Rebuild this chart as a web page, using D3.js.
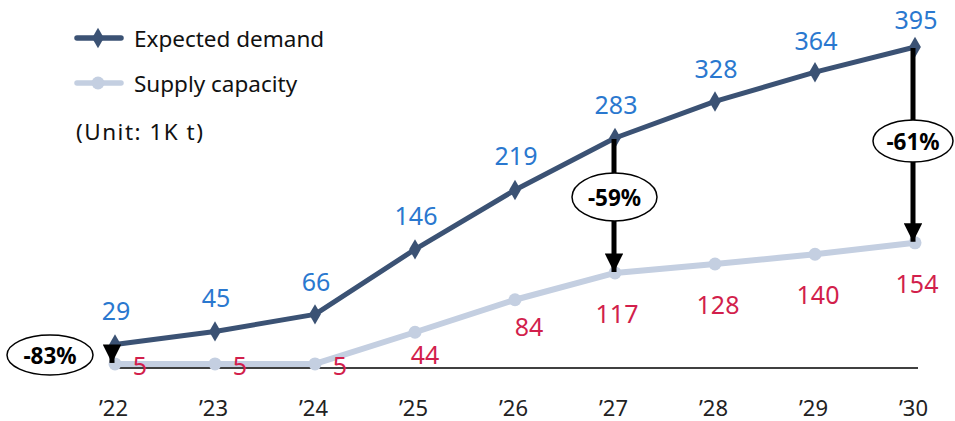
<!DOCTYPE html>
<html>
<head>
<meta charset="utf-8">
<script src="https://cdn.jsdelivr.net/npm/d3@7"></script>
<style>
  html, body { margin: 0; padding: 0; background: #fff; }
  svg { display: block; font-family: "Noto Sans", "Open Sans", sans-serif; }
</style>
</head>
<body>
<svg id="chart" width="955" height="421"></svg>
<script>
// Years on the x axis
const years = ["’22", "’23", "’24", "’25", "’26", "’27", "’28", "’29", "’30"];
// Expected demand (1K t)
const demand = [29, 45, 66, 146, 219, 283, 328, 364, 395];
// Supply capacity (1K t)
const supply = [5, 5, 5, 44, 84, 117, 128, 140, 154];
// Years where the demand/supply gap is called out
const gapYears = ["’22", "’27", "’30"];

const FONT = "'Noto Sans', 'Open Sans', sans-serif";
const demandColor = "#3b5274";
const supplyColor = "#c4cfe1";
const demandLabelColor = "#2a78cf";
const supplyLabelColor = "#d21f4c";

const svg = d3.select("#chart");

const x = d3.scalePoint().domain(years).range([115, 915]);
const y = d3.scaleLinear().domain([0, 395]).range([368, 47]);

// Baseline
svg.append("line")
  .attr("x1", x(years[0]) - 2).attr("x2", 918)
  .attr("y1", y(0)).attr("y2", y(0))
  .attr("stroke", "#000").attr("stroke-width", 1.3);

// x-axis tick labels
const xAxis = d3.axisBottom(x).tickSize(0).tickPadding(0);
const gx = svg.append("g").attr("transform", `translate(0, ${y(0)})`).call(xAxis);
gx.select(".domain").remove();
gx.selectAll("text")
  .attr("dy", null).attr("y", 39).attr("dx", -2).attr("dominant-baseline", "central")
  .attr("font-size", 22).attr("fill", "#222")
  .style("font-family", FONT);

const line = d3.line().x((d, i) => x(years[i])).y(d => y(d));

// Supply line
svg.append("path").datum(supply)
  .attr("d", line).attr("fill", "none")
  .attr("stroke", supplyColor).attr("stroke-width", 6).attr("stroke-linejoin", "round");
svg.selectAll("circle.sup").data(supply).join("circle")
  .attr("class", "sup")
  .attr("cx", (d, i) => x(years[i])).attr("cy", d => y(d)).attr("r", 6.5)
  .attr("fill", supplyColor);

// Demand line
svg.append("path").datum(demand)
  .attr("d", line).attr("fill", "none")
  .attr("stroke", demandColor).attr("stroke-width", 5).attr("stroke-linejoin", "round");
svg.selectAll("path.dem").data(demand).join("path")
  .attr("class", "dem")
  .attr("transform", (d, i) => `translate(${x(years[i])},${y(d)})`)
  .attr("d", d3.symbol(d3.symbolDiamond, 120))
  .attr("fill", demandColor);

// Gap arrows with percentage callouts
const defs = svg.append("defs");
defs.append("marker")
  .attr("id", "head").attr("viewBox", "0 0 10 10")
  .attr("refX", 10).attr("refY", 5)
  .attr("markerWidth", 3.7).attr("markerHeight", 3.7)
  .attr("markerUnits", "strokeWidth").attr("orient", "auto")
  .append("path").attr("d", "M0,0 L10,5 L0,10 Z").attr("fill", "#000");

const bubbleSpecs = {
  "’22": { cx: 50, cy: 355, rx: 43, ry: 20, ax: 112 },
  "’27": { cx: 614.5, cy: 197, rx: 42.5, ry: 24, ax: 614 },
  "’30": { cx: 913, cy: 141, rx: 40, ry: 21, ax: 913 }
};

gapYears.forEach(yr => {
  const i = years.indexOf(yr);
  const s = bubbleSpecs[yr];
  const pct = Math.round((supply[i] - demand[i]) / demand[i] * 100);
  svg.append("line")
    .attr("x1", s.ax).attr("x2", s.ax)
    .attr("y1", y(demand[i]) + 1).attr("y2", y(supply[i]) - 1)
    .attr("stroke", "#000").attr("stroke-width", 5)
    .attr("marker-end", "url(#head)");
  svg.append("ellipse")
    .attr("cx", s.cx).attr("cy", s.cy).attr("rx", s.rx).attr("ry", s.ry)
    .attr("fill", "#fff").attr("stroke", "#000").attr("stroke-width", 1.5);
  svg.append("text")
    .attr("x", s.cx).attr("y", s.cy).attr("text-anchor", "middle")
    .attr("dominant-baseline", "central")
    .attr("font-size", 22.5).attr("font-weight", "bold").attr("fill", "#000")
    .text(`${pct}%`);
});

// Value labels above the demand points
const demandNudge = [-34, -34, -33, -34, -35, -34, -33, -32, -28];
svg.selectAll("text.dl").data(demand).join("text")
  .attr("class", "dl")
  .attr("x", (d, i) => x(years[i]) + 1)
  .attr("y", (d, i) => y(d) + demandNudge[i])
  .attr("text-anchor", "middle").attr("dominant-baseline", "central")
  .attr("font-size", 25).attr("fill", demandLabelColor)
  .text(d => d);

// Supply labels: right of the flat early points, below the rest
const supplyNudge = [[25, 1], [25, 1], [25, 1], [10, 22], [14, 26], [2, 40], [3, 40], [3, 40], [2, 40]];
svg.selectAll("text.sl").data(supply).join("text")
  .attr("class", "sl")
  .attr("x", (d, i) => x(years[i]) + supplyNudge[i][0])
  .attr("y", (d, i) => y(d) + supplyNudge[i][1])
  .attr("text-anchor", "middle").attr("dominant-baseline", "central")
  .attr("font-size", 25).attr("fill", supplyLabelColor)
  .text(d => d);

// Legend
const legend = [
  { name: "Expected demand", color: demandColor, sym: "diamond", yy: 38 },
  { name: "Supply capacity", color: supplyColor, sym: "circle", yy: 83 }
];
legend.forEach(l => {
  svg.append("line")
    .attr("x1", 77).attr("x2", 121).attr("y1", l.yy).attr("y2", l.yy)
    .attr("stroke", l.color).attr("stroke-width", 5.5).attr("stroke-linecap", "round");
  if (l.sym === "diamond") {
    svg.append("path").attr("transform", `translate(98,${l.yy})`)
      .attr("d", d3.symbol(d3.symbolDiamond, 120)).attr("fill", l.color);
  } else {
    svg.append("circle").attr("cx", 98).attr("cy", l.yy).attr("r", 6.5).attr("fill", l.color);
  }
  svg.append("text")
    .attr("x", 134).attr("y", l.yy).attr("dominant-baseline", "central")
    .attr("font-size", 22.5).attr("fill", "#111").text(l.name);
});
svg.append("text")
  .attr("x", 76).attr("y", 131).attr("dominant-baseline", "central")
  .attr("font-size", 22.5).attr("letter-spacing", 1.5).attr("fill", "#111").text("(Unit: 1K t)");
</script>
</body>
</html>
